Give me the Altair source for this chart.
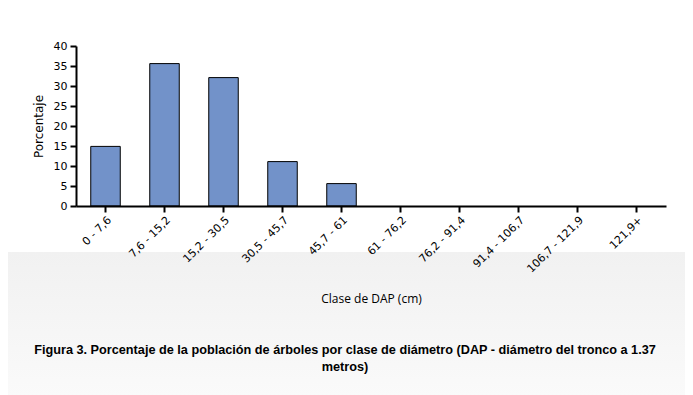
import altair as alt
import pandas as pd

categories = ["0 - 7,6", "7,6 - 15,2", "15,2 - 30,5", "30,5 - 45,7", "45,7 - 61",
              "61 - 76,2", "76,2 - 91,4", "91,4 - 106,7", "106,7 - 121,9", "121,9+"]
percentages = [14.9, 35.6, 32.1, 11.1, 5.6, 0, 0, 0, 0, 0]
y_ticks = [0, 5, 10, 15, 20, 25, 30, 35, 40]
caption = ["Figura 3. Porcentaje de la población de árboles por clase de diámetro (DAP - diámetro del tronco a 1.37",
           "metros)"]

df = pd.DataFrame({"clase": categories, "pct": percentages})

W, H = 590, 160
PL, PT = 68, 38

bg = alt.Chart(alt.Data(values=[{}])).mark_rect(
    fill=alt.LinearGradient(
        gradient="linear", x1=0, x2=0, y1=0, y2=1,
        stops=[alt.GradientStop(color="#f1f1f1", offset=0),
               alt.GradientStop(color="#fdfdfd", offset=1)]
    )
).encode(
    x=alt.value(-PL), x2=alt.value(W + 40),
    y=alt.value(252 - 46), y2=alt.value(400)
)

bars = alt.Chart(df).transform_filter(alt.datum.pct > 0).mark_bar(
    color="#7292c9", stroke="#000000", strokeWidth=1
).encode(
    x=alt.X("clase:N", sort=categories,
            scale=alt.Scale(domain=categories, paddingInner=0.5, paddingOuter=0.25),
            axis=alt.Axis(title="Clase de DAP (cm)", labelAngle=-45,
                          labelFont="DejaVu Sans", labelFontSize=11, labelColor="#000000",
                          titleFont="Open Sans", titleFontSize=12, titleFontWeight="normal",
                          titleColor="#000000", titleBaseline="middle", titleY=92,
                          domainColor="#000000", domainWidth=2, tickColor="#000000",
                          tickWidth=2, tickSize=6, labelPadding=2, zindex=1)),
    y=alt.Y("pct:Q", scale=alt.Scale(domain=[0, 40], nice=False),
            axis=alt.Axis(title="Porcentaje", values=y_ticks, grid=False,
                          labelFont="DejaVu Sans", labelFontSize=11, labelColor="#000000",
                          titleFont="DejaVu Sans", titleFontSize=12, titleFontWeight="normal",
                          titleColor="#000000", titlePadding=8,
                          domainColor="#000000", domainWidth=2, tickColor="#000000",
                          tickWidth=2, tickSize=6, labelPadding=3, zindex=1))
)

cap = alt.Chart(alt.Data(values=[{}])).mark_text(
    font="Liberation Sans", fontSize=12.7, fontWeight="bold", color="#000000",
    align="center", baseline="middle", lineHeight=17
).encode(
    x=alt.value(345 - 76), y=alt.value(350 - 46), text=alt.value(caption)
)

chart = alt.layer(bg, bars, cap).properties(
    width=W, height=H,
    autosize=alt.AutoSizeParams(type="none"),
    padding={"left": PL, "top": PT, "right": 685 - 8 - PL - W, "bottom": 387 - PT - H},
    background="#ffffff"
).configure_view(stroke=None)

chart.save("out.html", embed_options={"renderer": "svg", "actions": False})
